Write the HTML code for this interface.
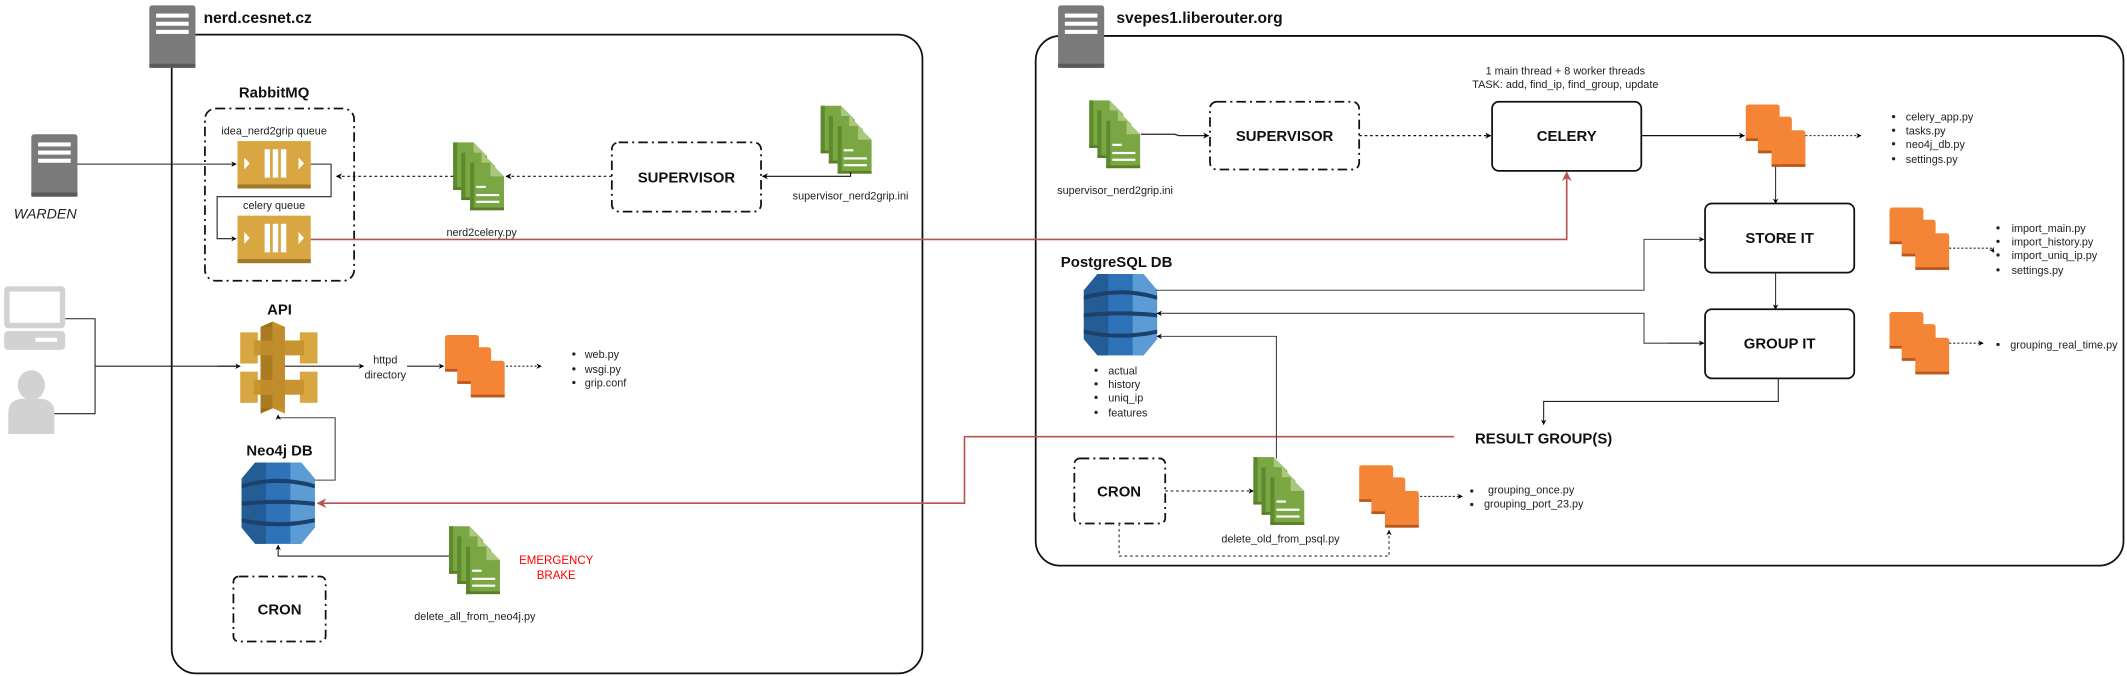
<!DOCTYPE html>
<html><head><meta charset="utf-8"><style>
html,body{margin:0;padding:0;background:#fff;}
svg{display:block;}
text{font-family:"Liberation Sans",Arial,sans-serif;}
.s{font-size:8px;fill:#222;}
.b{font-size:11px;font-weight:bold;fill:#111;}
.t{font-size:11.5px;font-weight:bold;fill:#111;}
</style></head><body>
<svg width="2127" height="676" viewBox="0 0 1568 498.4" xmlns="http://www.w3.org/2000/svg">
<defs>
<marker id="a" viewBox="0 0 10 10" refX="9" refY="5" markerWidth="5" markerHeight="5" orient="auto"><path d="M0,0 L10,5 L0,10 L3,5 z" fill="#000"/></marker>
<marker id="r" viewBox="0 0 10 10" refX="9" refY="5" markerWidth="6" markerHeight="6" orient="auto"><path d="M0,0 L10,5 L0,10 L3,5 z" fill="#b85450"/></marker>
<g id="srv"><rect x="0" y="0" width="34" height="46" rx="2" fill="#7a7a7a"/><rect x="0" y="43" width="34" height="3" fill="#5a5a5a"/><rect x="5" y="6" width="24" height="3" fill="#fff"/><rect x="5" y="12" width="24" height="3" fill="#fff"/><rect x="5" y="18" width="24" height="3" fill="#fff"/></g>
<g id="pg"><path d="M0,0 H15 L25,10 V35 H0 Z" fill="#7aa643"/><path d="M0,0 H3 V35 H0 Z" fill="#5d8a2c"/><path d="M15,0 V10 H25 Z" fill="#a9c87d"/><rect x="0" y="33" width="25" height="2" fill="#5a7d2a"/></g>
<g id="file"><use href="#pg"/><use href="#pg" x="6" y="7.5"/><use href="#pg" x="12.5" y="15"/><rect x="17" y="32" width="7" height="1.6" fill="#fff"/><rect x="17" y="38" width="17" height="1.6" fill="#fff"/><rect x="17" y="43" width="17" height="1.6" fill="#fff"/></g>
<g id="sq"><rect x="0" y="0" width="25" height="27" rx="2" fill="#f58536"/><rect x="0" y="25" width="25" height="2" fill="#b8581c"/></g>
<g id="orng"><use href="#sq"/><use href="#sq" x="9" y="9"/><use href="#sq" x="19" y="19"/></g>
<g id="q"><rect x="0" y="0" width="54" height="35" fill="#d9a741"/><rect x="0" y="32" width="54" height="3" fill="#a07a2a"/><rect x="20" y="6" width="4" height="21" fill="#fff"/><rect x="26" y="6" width="4" height="21" fill="#fff"/><rect x="32" y="6" width="4" height="21" fill="#fff"/><path d="M5,12 L9,16.5 L5,21 Z" fill="#fff"/><path d="M45,12 L49,16.5 L45,21 Z" fill="#fff"/></g>
<g id="db"><path d="M10,0 H44 L54,12 V48 L44,60 H10 L0,48 V12 Z" fill="#2e73b8"/><path d="M36,0 H44 L54,12 V48 L44,60 H36 Z" fill="#5d9bd5"/><path d="M0,12 L10,0 H18 V60 H10 L0,48 Z" fill="#245d96"/><path d="M0,16 Q27,8 54,16 V19 Q27,11 0,19 Z" fill="#1b416c"/><path d="M0,29 Q27,26 54,29 V32 Q27,29 0,32 Z" fill="#1b416c"/><path d="M0,41 Q27,47 54,41 V44 Q27,50 0,44 Z" fill="#1b416c"/></g>
<g id="api"><path d="M24,0 L33,4 V68 L24,64 Z" fill="#c8942f"/><path d="M24,0 L15,4 V68 L24,64" fill="#9c7019"/><rect x="0" y="8" width="13" height="23" fill="#d9a741"/><rect x="44" y="8" width="13" height="23" fill="#d9a741"/><rect x="0" y="37" width="13" height="23" fill="#d9a741"/><rect x="44" y="37" width="13" height="23" fill="#d9a741"/><rect x="10" y="14" width="14" height="11" fill="#c8942f"/><rect x="33" y="14" width="14" height="11" fill="#c8942f"/><rect x="10" y="43" width="14" height="11" fill="#c8942f"/><rect x="33" y="43" width="14" height="11" fill="#c8942f"/><rect x="15" y="4" width="18" height="60" fill="#b9862a" opacity="0.5"/></g>
</defs>

<rect x="126.5" y="25.5" width="553.5" height="471" rx="18" fill="none" stroke="#111" stroke-width="1.3"/>
<use href="#srv" x="110" y="4"/>
<text class="t" x="150" y="17">nerd.cesnet.cz</text>

<rect x="763.5" y="26.5" width="802" height="390.5" rx="18" fill="none" stroke="#111" stroke-width="1.3"/>
<use href="#srv" x="780" y="4"/>
<text class="t" x="823" y="17">svepes1.liberouter.org</text>

<use href="#srv" x="23" y="99"/>
<text x="10" y="161" style="font-size:10.5px;font-style:italic;fill:#222">WARDEN</text>
<line x1="57" y1="121" x2="174" y2="121" stroke="#222" stroke-width="0.8" marker-end="url(#a)"/>

<text class="b" x="202" y="72" text-anchor="middle">RabbitMQ</text>
<rect x="151" y="80" width="110" height="127" rx="8" fill="none" stroke="#111" stroke-width="1.3" stroke-dasharray="7,3,1.5,3"/>
<text class="s" x="202" y="99" text-anchor="middle">idea_nerd2grip queue</text>
<use href="#q" x="175" y="104"/>
<text class="s" x="202" y="154" text-anchor="middle">celery queue</text>
<use href="#q" x="175" y="159"/>
<path d="M229,121 H244 V145 H160 V176 H174" fill="none" stroke="#222" stroke-width="0.8" marker-end="url(#a)"/>

<use href="#file" x="334" y="105"/>
<text class="s" x="355" y="174" text-anchor="middle">nerd2celery.py</text>
<line x1="334" y1="130" x2="248" y2="130" stroke="#111" stroke-width="0.9" stroke-dasharray="2,2" marker-end="url(#a)"/>

<rect x="451" y="105" width="110" height="51" rx="5" fill="none" stroke="#111" stroke-width="1.3" stroke-dasharray="7,3,1.5,3"/>
<text class="b" x="506" y="134.5" text-anchor="middle">SUPERVISOR</text>
<line x1="451" y1="130" x2="373" y2="130" stroke="#111" stroke-width="0.9" stroke-dasharray="2,2" marker-end="url(#a)"/>
<use href="#file" x="605" y="78"/>
<text class="s" x="627" y="147" text-anchor="middle">supervisor_nerd2grip.ini</text>
<path d="M627,127 V130 H562" fill="none" stroke="#111" stroke-width="0.9" marker-end="url(#a)"/>

<path d="M229,176.5 H1155 V127" fill="none" stroke="#b85450" stroke-width="1.2" marker-end="url(#r)"/>

<rect x="3" y="211" width="45" height="31" rx="3" fill="#d2d2d2"/><rect x="7" y="215" width="37" height="23" fill="#fff"/>
<rect x="3" y="244" width="45" height="14" rx="3" fill="#d2d2d2"/><rect x="26" y="249" width="16" height="3" fill="#fff"/>
<ellipse cx="23" cy="284" rx="10" ry="11" fill="#d2d2d2"/>
<path d="M6,320 V304 Q6,295 16,294 H30 Q40,295 40,304 V320 Z" fill="#d2d2d2"/>
<path d="M48,235 H70 V305 H40 M70,270 H176" fill="none" stroke="#222" stroke-width="0.8"/>
<line x1="160" y1="270" x2="177" y2="270" stroke="#222" stroke-width="0.8" marker-end="url(#a)"/>

<text class="b" x="206" y="232" text-anchor="middle">API</text>
<use href="#api" x="177" y="237"/>
<line x1="210" y1="270" x2="268" y2="270" stroke="#222" stroke-width="0.8" marker-end="url(#a)"/>
<text class="s" x="284" y="268" text-anchor="middle">httpd</text>
<text class="s" x="284" y="279" text-anchor="middle">directory</text>
<line x1="300" y1="270" x2="327" y2="270" stroke="#222" stroke-width="0.8" marker-end="url(#a)"/>
<use href="#orng" x="328" y="247"/>
<line x1="373" y1="270" x2="399" y2="270" stroke="#222" stroke-width="0.8" stroke-dasharray="1.5,1.5" marker-end="url(#a)"/>
<circle cx="423" cy="261" r="1.2" fill="#222"/><text class="s" x="431" y="264">web.py</text>
<circle cx="423" cy="272" r="1.2" fill="#222"/><text class="s" x="431" y="275">wsgi.py</text>
<circle cx="423" cy="282" r="1.2" fill="#222"/><text class="s" x="431" y="285">grip.conf</text>

<text class="b" x="206" y="336" text-anchor="middle">Neo4j DB</text>
<use href="#db" x="178" y="341"/>
<path d="M232,354 H247 V308 H205 V306" fill="none" stroke="#444" stroke-width="0.8" marker-end="url(#a)"/>
<path d="M1072,322 H711 V371 H234" fill="none" stroke="#b85450" stroke-width="1.2" marker-end="url(#r)"/>
<use href="#file" x="331" y="388"/>
<text class="s" x="350" y="457" text-anchor="middle">delete_all_from_neo4j.py</text>
<path d="M331,410 H205 V402" fill="none" stroke="#222" stroke-width="0.8" marker-end="url(#a)"/>
<text x="410" y="416" text-anchor="middle" style="font-size:8.5px;fill:#f00">EMERGENCY</text>
<text x="410" y="427" text-anchor="middle" style="font-size:8.5px;fill:#f00">BRAKE</text>
<rect x="172" y="425" width="68" height="48" rx="4" fill="none" stroke="#111" stroke-width="1.3" stroke-dasharray="7,3,1.5,3"/>
<text class="b" x="206" y="453" text-anchor="middle">CRON</text>

<use href="#file" x="803" y="74"/>
<text class="s" x="822" y="143" text-anchor="middle">supervisor_nerd2grip.ini</text>
<path d="M841,99 H866 L869,100 H891" fill="none" stroke="#222" stroke-width="0.9" marker-end="url(#a)"/>
<rect x="892" y="75" width="110" height="50" rx="5" fill="none" stroke="#111" stroke-width="1.3" stroke-dasharray="7,3,1.5,3"/>
<text class="b" x="947" y="104" text-anchor="middle">SUPERVISOR</text>
<line x1="1002" y1="100" x2="1099" y2="100" stroke="#111" stroke-width="0.9" stroke-dasharray="2,2" marker-end="url(#a)"/>
<text class="s" x="1154" y="55" text-anchor="middle">1 main thread + 8 worker threads</text>
<text class="s" x="1154" y="65" text-anchor="middle">TASK: add, find_ip, find_group, update</text>
<rect x="1100" y="75" width="110" height="51" rx="5" fill="#fff" stroke="#111" stroke-width="1.3"/>
<text class="b" x="1155" y="104" text-anchor="middle">CELERY</text>
<line x1="1210" y1="100" x2="1286" y2="100" stroke="#111" stroke-width="0.9" marker-end="url(#a)"/>
<use href="#orng" x="1287" y="77"/>
<line x1="1331" y1="100" x2="1372" y2="100" stroke="#222" stroke-width="0.8" stroke-dasharray="1.5,1.5" marker-end="url(#a)"/>
<circle cx="1396" cy="86" r="1.2" fill="#222"/><text class="s" x="1405" y="89">celery_app.py</text>
<circle cx="1396" cy="96" r="1.2" fill="#222"/><text class="s" x="1405" y="99">tasks.py</text>
<circle cx="1396" cy="106" r="1.2" fill="#222"/><text class="s" x="1405" y="109">neo4j_db.py</text>
<circle cx="1396" cy="117" r="1.2" fill="#222"/><text class="s" x="1405" y="120">settings.py</text>
<line x1="1309" y1="123" x2="1309" y2="150" stroke="#333" stroke-width="0.8" marker-end="url(#a)"/>

<rect x="1257" y="150" width="110" height="51" rx="5" fill="#fff" stroke="#111" stroke-width="1.3"/>
<text class="b" x="1312" y="179" text-anchor="middle">STORE IT</text>
<line x1="1309" y1="201" x2="1309" y2="228" stroke="#333" stroke-width="0.8" marker-end="url(#a)"/>
<rect x="1257" y="228" width="110" height="51" rx="5" fill="#fff" stroke="#111" stroke-width="1.3"/>
<text class="b" x="1312" y="257" text-anchor="middle">GROUP IT</text>

<use href="#orng" x="1393" y="153"/>
<path d="M1437,183 H1468 L1470,186" fill="none" stroke="#222" stroke-width="0.8" stroke-dasharray="1.5,1.5" marker-end="url(#a)"/>
<circle cx="1473" cy="168" r="1.2" fill="#222"/><text class="s" x="1483" y="171">import_main.py</text>
<circle cx="1473" cy="178" r="1.2" fill="#222"/><text class="s" x="1483" y="181">import_history.py</text>
<circle cx="1473" cy="188" r="1.2" fill="#222"/><text class="s" x="1483" y="191">import_uniq_ip.py</text>
<circle cx="1473" cy="199" r="1.2" fill="#222"/><text class="s" x="1483" y="202">settings.py</text>
<use href="#orng" x="1393" y="230"/>
<line x1="1437" y1="253" x2="1462" y2="253" stroke="#222" stroke-width="0.8" stroke-dasharray="1.5,1.5" marker-end="url(#a)"/>
<circle cx="1473" cy="254" r="1.2" fill="#222"/><text class="s" x="1482" y="257">grouping_real_time.py</text>

<text class="b" x="782" y="197">PostgreSQL DB</text>
<use href="#db" x="799" y="202"/>
<circle cx="808" cy="273" r="1.2" fill="#222"/><text class="s" x="817" y="276">actual</text>
<circle cx="808" cy="283" r="1.2" fill="#222"/><text class="s" x="817" y="286">history</text>
<circle cx="808" cy="293" r="1.2" fill="#222"/><text class="s" x="817" y="296">uniq_ip</text>
<circle cx="808" cy="304" r="1.2" fill="#222"/><text class="s" x="817" y="307">features</text>
<path d="M852,214 H1212 V176.5 H1256" fill="none" stroke="#444" stroke-width="0.8" marker-end="url(#a)"/>
<path d="M1256,253 H1212 V231 H853" fill="none" stroke="#444" stroke-width="0.8" marker-end="url(#a)"/>
<line x1="1230" y1="253" x2="1256" y2="253" stroke="#444" stroke-width="0.8" marker-end="url(#a)"/>
<path d="M941,338 V248 H853" fill="none" stroke="#444" stroke-width="0.8" marker-end="url(#a)"/>
<path d="M1311,279 V296 H1138 V313" fill="none" stroke="#222" stroke-width="0.8" marker-end="url(#a)"/>
<text class="b" x="1138" y="327" text-anchor="middle">RESULT GROUP(S)</text>

<rect x="792" y="338" width="67" height="48" rx="4" fill="none" stroke="#111" stroke-width="1.3" stroke-dasharray="7,3,1.5,3"/>
<text class="b" x="825" y="366" text-anchor="middle">CRON</text>
<line x1="859" y1="362" x2="924" y2="362" stroke="#111" stroke-width="0.8" stroke-dasharray="2,2" marker-end="url(#a)"/>
<use href="#file" x="924" y="337"/>
<text class="s" x="944" y="400" text-anchor="middle">delete_old_from_psql.py</text>
<path d="M825,386 V410 H1024 V391" fill="none" stroke="#333" stroke-width="0.8" stroke-dasharray="2,2" marker-end="url(#a)"/>
<use href="#orng" x="1002" y="343"/>
<line x1="1047" y1="366" x2="1078" y2="366" stroke="#222" stroke-width="0.8" stroke-dasharray="1.5,1.5" marker-end="url(#a)"/>
<circle cx="1085" cy="362" r="1.2" fill="#222"/><text class="s" x="1097" y="364">grouping_once.py</text>
<circle cx="1085" cy="372" r="1.2" fill="#222"/><text class="s" x="1094" y="374">grouping_port_23.py</text>
</svg>
</body></html>
